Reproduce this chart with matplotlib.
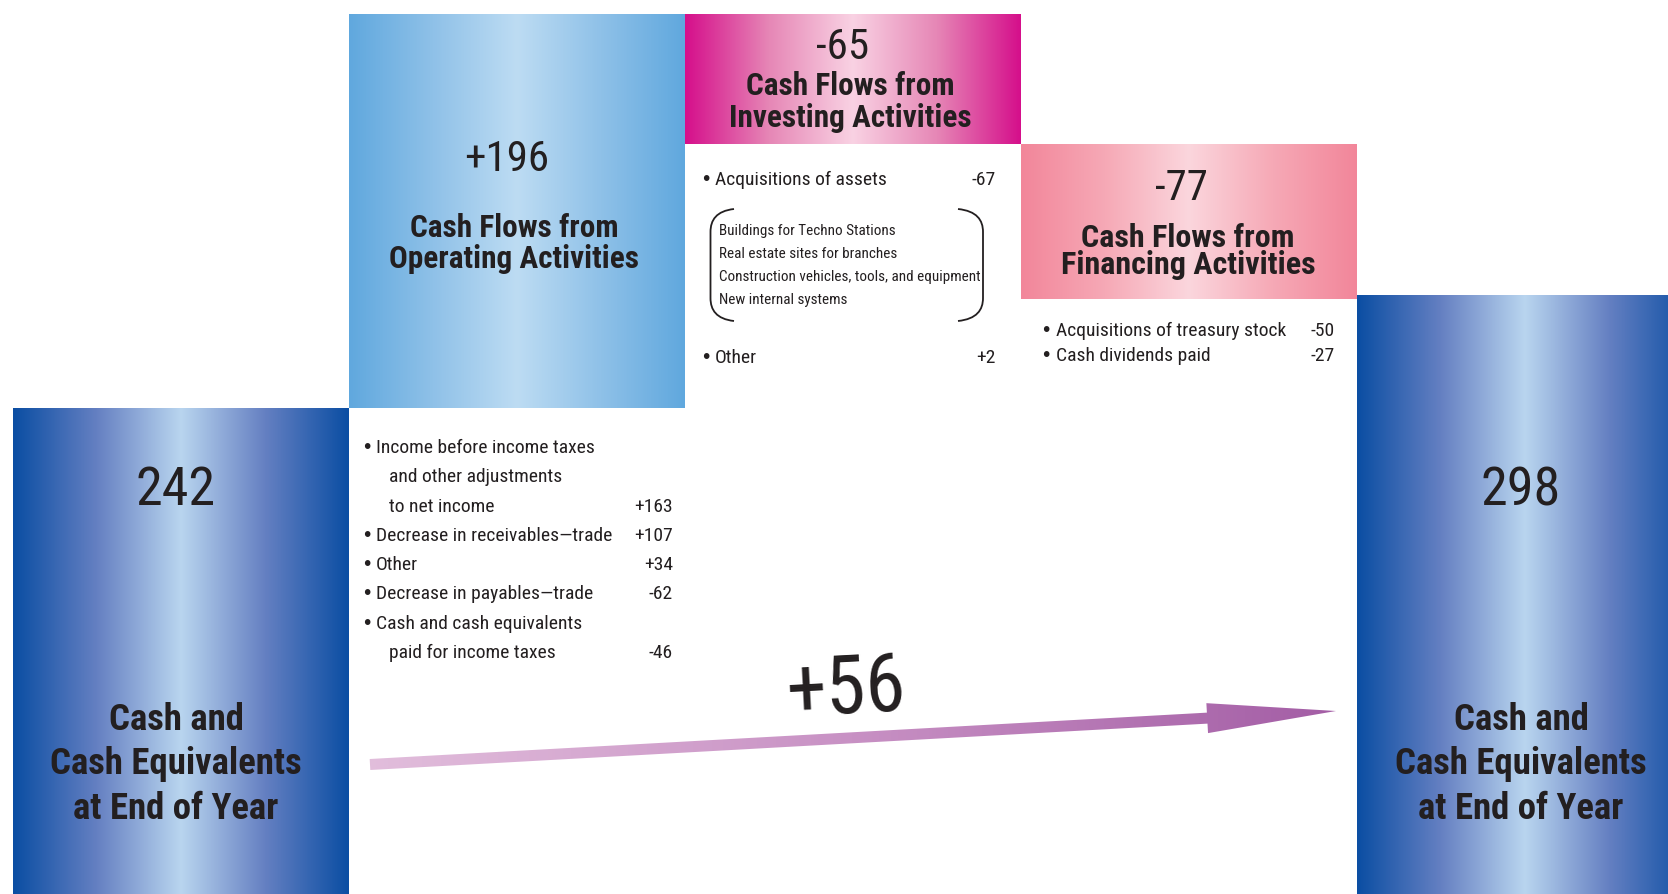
import matplotlib
matplotlib.use('Agg')
import matplotlib.pyplot as plt
import numpy as np
from matplotlib.colors import LinearSegmentedColormap
from matplotlib.patches import Polygon, PathPatch
from matplotlib.path import Path

plt.rcParams['font.family'] = ['Roboto Condensed', 'DejaVu Sans']

# Datos del flujo de caja
inicio = 242
final = 298
cambios = [196, -65, -77]
total = 56

items_operativo = [('Income before income taxes\nand other adjustments\nto net income', '+163'),
                   ('Decrease in receivables\u2014trade', '+107'),
                   ('Other', '+34'),
                   ('Decrease in payables\u2014trade', '-62'),
                   ('Cash and cash equivalents\npaid for income taxes', '-46')]
items_inversion = [('Acquisitions of assets', '-67'), ('Other', '+2')]
detalle_activos = ['Buildings for Techno Stations', 'Real estate sites for branches',
                   'Construction vehicles, tools, and equipment', 'New internal systems']
items_financiacion = [('Acquisitions of treasury stock', '-50'), ('Cash dividends paid', '-27')]

titulo_extremos = 'Cash and\nCash Equivalents\nat End of Year'
titulos = ['Cash Flows from\nOperating Activities',
           'Cash Flows from\nInvesting Activities',
           'Cash Flows from\nFinancing Activities']

TXT = '#231f20'

fig = plt.figure(figsize=(16.68, 8.94), dpi=100)
ax = fig.add_axes([0, 0, 1, 1])
ax.set_xlim(-13 / 336, -13 / 336 + 1668 / 336)
ax.set_ylim(0, 894 / 2.01)
ax.axis('off')

# Calcular bases de la cascada
alturas = [inicio]
bases = [0]
acum = inicio
for c in cambios:
    if c >= 0:
        bases.append(acum)
        alturas.append(c)
    else:
        bases.append(acum + c)
        alturas.append(-c)
    acum += c
bases.append(0)
alturas.append(final)

barras = ax.bar(np.arange(5), alturas, bottom=bases, width=1.0, align='edge',
                color='none', edgecolor='none')

colores = [['#0b4ea3', '#6580c2', '#b9d5ef'],
           ['#60a8de', '#8fc1e8', '#bddcf3'],
           ['#d50f8b', '#e687b6', '#f9d2e3'],
           ['#f2869a', '#f6a9b6', '#fbd6dd'],
           ['#0b4ea3', '#6580c2', '#b9d5ef']]
grad = np.linspace(0, 1, 256).reshape(1, -1)
for b, cols in zip(barras, colores):
    cmap = LinearSegmentedColormap.from_list('g', [cols[0], cols[1], cols[2], cols[1], cols[0]])
    x, y = b.get_x(), b.get_y()
    im = ax.imshow(grad, extent=(x, x + b.get_width(), y, y + b.get_height()),
                   aspect='auto', cmap=cmap, zorder=1)
    im.set_clip_path(b)

# Capa de textos en pixeles
ov = fig.add_axes([0, 0, 1, 1])
ov.set_xlim(0, 1668)
ov.set_ylim(894, 0)
ov.axis('off')
ov.patch.set_visible(False)

# Extremos
for xc, v in [(176, inicio), (1521, final)]:
    ov.text(xc, 505, str(v), ha='center', va='baseline', fontsize=39, color=TXT)
    for i, linea in enumerate(titulo_extremos.split('\n')):
        ov.text(xc, 730 + i * 44.5, linea, ha='center', va='baseline', fontsize=26.5,
                fontweight='bold', color=TXT)

# Encabezados de actividades
pos = [(510, 171, 237, 31, 22.5), (846, 59, 95, 32, 22.5), (1184, 200, 247, 27, 23)]
for (xc, yv, yt, sp, fs), c, t in zip(pos, cambios, titulos):
    ov.text(xc - 3, yv, f'{c:+d}', ha='center', va='baseline', fontsize=31, color=TXT)
    for i, linea in enumerate(t.split('\n')):
        ov.text(xc + 4, yt + i * sp, linea, ha='center', va='baseline', fontsize=fs,
                fontweight='bold', color=TXT)

# Listas con vinetas
def vineta(x, y):
    ov.text(x, y, '\u2022', ha='left', va='baseline', fontsize=14, color=TXT,
            family='DejaVu Sans')

def lista(items, x_bullet, x_text, x_val, y0, paso, indent=13):
    y = y0
    for label, val in items:
        lineas = label.split('\n')
        vineta(x_bullet, y)
        for j, l in enumerate(lineas):
            ov.text(x_text + (indent if j > 0 else 0), y, l, ha='left', va='baseline',
                    fontsize=14, color=TXT)
            if j < len(lineas) - 1:
                y += paso
        ov.text(x_val, y, val, ha='right', va='baseline', fontsize=14, color=TXT)
        y += paso

lista(items_operativo, 361, 376, 673, 453, 29.3)
lista(items_financiacion, 1040, 1056, 1335, 336, 25)

for (label, val), yb in zip(items_inversion, [185, 363]):
    vineta(700, yb)
    ov.text(715, yb, label, ha='left', va='baseline', fontsize=14, color=TXT)
    ov.text(996, yb, val, ha='right', va='baseline', fontsize=14, color=TXT)
for i, l in enumerate(detalle_activos):
    ov.text(719, 235 + i * 23, l, ha='left', va='baseline', fontsize=10.9, color=TXT)

# Corchetes
for xe, xv in [(734, 710.5), (958, 983)]:
    d = xv - xe
    p = Path([(xe, 209), (xe + d * 0.75, 211), (xv, 220), (xv, 232), (xv, 298),
              (xv, 310), (xe + d * 0.75, 319), (xe, 321)],
             [Path.MOVETO, Path.CURVE4, Path.CURVE4, Path.CURVE4, Path.LINETO,
              Path.CURVE4, Path.CURVE4, Path.CURVE4])
    ov.add_patch(PathPatch(p, facecolor='none', edgecolor=TXT, lw=1.3))

# Flecha del cambio neto
S = np.array([370, 764.5])
T = np.array([1336, 711])
u = (T - S) / np.linalg.norm(T - S)
n = np.array([-u[1], u[0]])
B = T - u * 129
hw, HW = 5.5, 15
pts = [S + n * hw, B + n * hw, B + n * HW, T, B - n * HW, B - n * hw, S - n * hw]
flecha = Polygon(pts, closed=True, facecolor='none', edgecolor='none')
ov.add_patch(flecha)
cmap_f = LinearSegmentedColormap.from_list('f', ['#e2bedc', '#c891c4', '#a35da5'])
im = ov.imshow(grad, extent=(365, 1340, 780, 690), aspect='auto', cmap=cmap_f, zorder=2)
im.set_clip_path(flecha)

ov.text(847, 713, f'{total:+d}', ha='center', va='baseline', fontsize=58, color=TXT,
        rotation=3, rotation_mode='anchor')

fig.savefig('out.png', dpi=100)
